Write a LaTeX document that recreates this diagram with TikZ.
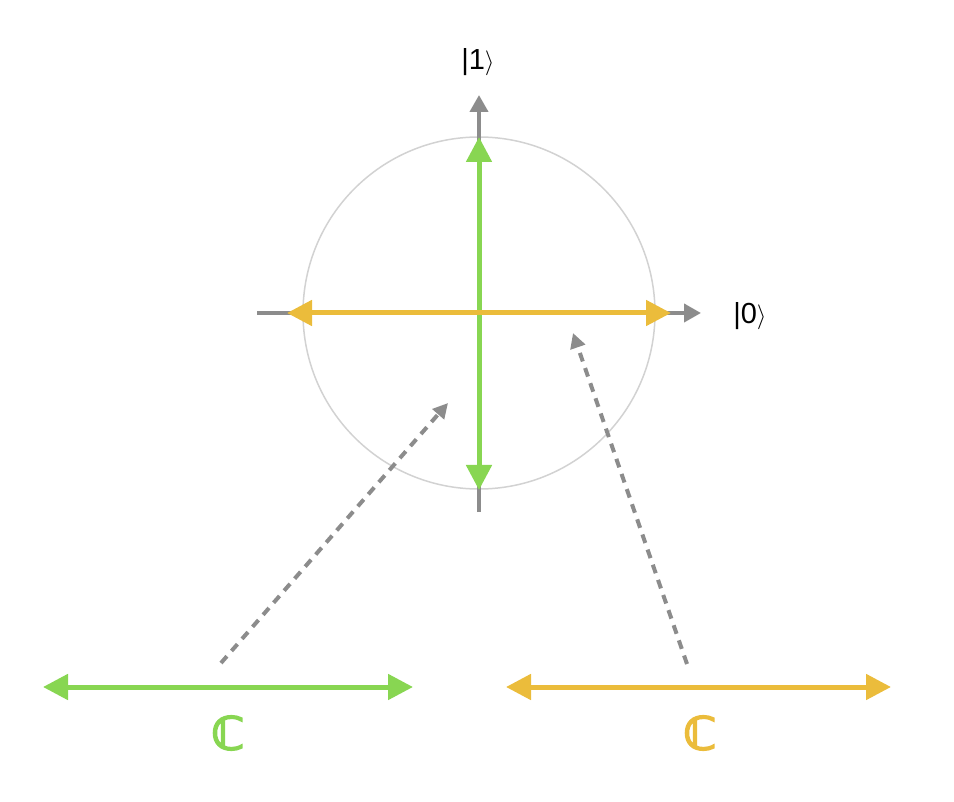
\documentclass[tikz,border=0pt]{standalone}
\usepackage{fontspec}
\setmainfont{Liberation Sans}
\newfontfamily\dejab{DejaVu Sans}[FakeBold=3]
\usetikzlibrary{arrows.meta}
\definecolor{cgreen}{RGB}{136,214,82}
\definecolor{cyellow}{RGB}{235,188,59}
\definecolor{cgray}{RGB}{140,140,140}
\definecolor{ccircle}{RGB}{210,210,210}
\tikzset{
  axisline/.style={draw=cgray, line width=4pt, -{Triangle[length=17pt,width=18pt]}},
  bigarrow/.style={line width=5pt, {Triangle[length=25pt,width=25pt]}-{Triangle[length=25pt,width=25pt]}},
  dasharrow/.style={draw=cgray, line width=4pt, dash pattern=on 9pt off 7pt, -{Triangle[length=15pt,width=15pt]}},
  ketlabel/.style={font=\fontsize{29}{31}\selectfont, text=black, inner sep=0pt},
  setlabel/.style={font=\dejab\bfseries\fontsize{46}{50}\selectfont, inner sep=0pt}
}
\begin{document}
\begin{tikzpicture}[x=1pt,y=-1pt]
\useasboundingbox (0,0) rectangle (954,802);
\coordinate (O) at (479,313);
\draw[ccircle, line width=1.5pt] (O) circle[radius=176];
% axes
\coordinate (hl) at (257,313);
\coordinate (hr) at (701,313);
\coordinate (vb) at (479,512);
\coordinate (vt) at (479,95);
\draw[axisline] (hl) -- (hr);
\draw[axisline] (vb) -- (vt);
% colored arrows
\coordinate (yl) at (287,313);
\coordinate (yr) at (671,313);
\coordinate (gt) at (479,137);
\coordinate (gb) at (479,490);
\draw[bigarrow, cgreen] (gb) -- (gt);
\draw[bigarrow, cyellow] (yl) -- (yr);
% labels
\node[ketlabel] (k1) at (478,62) {|1$\rangle$};
\node[ketlabel] (k0) at (750,316) {|0$\rangle$};
% bottom lines
\coordinate (bgl) at (43,687);
\coordinate (bgr) at (413,687);
\coordinate (byl) at (506,687);
\coordinate (byr) at (891,687);
\draw[bigarrow, cgreen] (bgl) -- (bgr);
\draw[bigarrow, cyellow] (byl) -- (byr);
\node[setlabel, text=cgreen] (cg) at (228,733) {ℂ};
\node[setlabel, text=cyellow] (cy) at (700,733) {ℂ};
% dashed pointers
\coordinate (d1s) at (221,663);
\coordinate (d1e) at (448,403);
\coordinate (d2s) at (687,664);
\coordinate (d2e) at (573,333);
\draw[dasharrow] (d1s) -- (d1e);
\draw[dasharrow] (d2s) -- (d2e);
\end{tikzpicture}
\end{document}
